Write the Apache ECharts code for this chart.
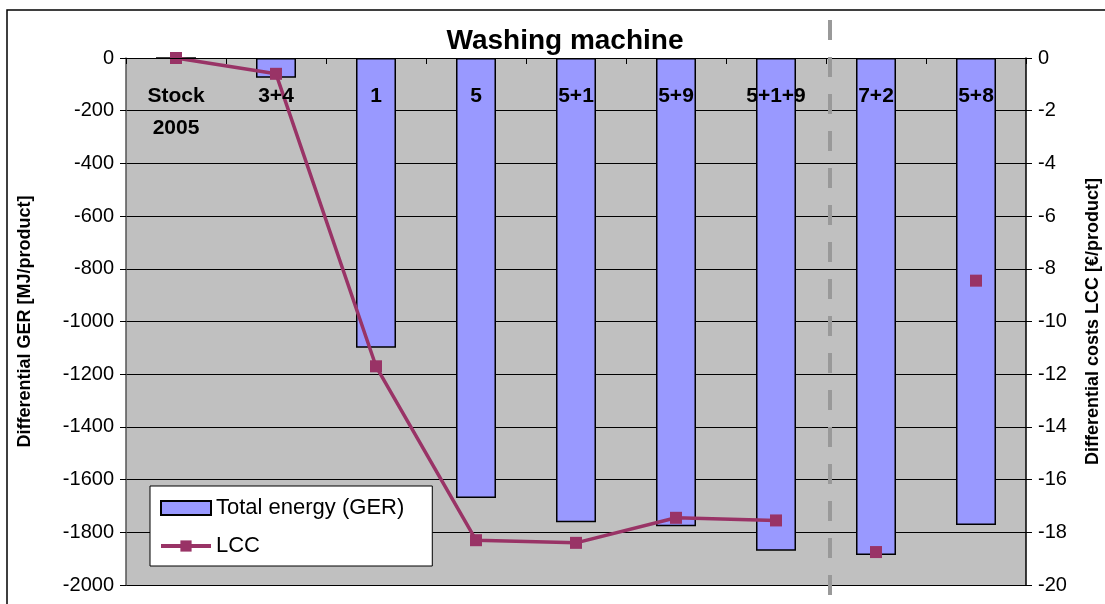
<!DOCTYPE html>
<html>
<head>
<meta charset="utf-8">
<script src="https://cdn.jsdelivr.net/npm/echarts@6/dist/echarts.min.js"></script>
<style>
  html, body { margin: 0; padding: 0; background: #fff; }
  #chart { width: 1105px; height: 604px; }
</style>
</head>
<body>
<div id="chart"></div>
<script>
var categories = ['Stock\n2005', '3+4', '1', '5', '5+1', '5+9', '5+1+9', '7+2', '5+8'];
var gerValues = [0, -75, -1100, -1670, -1762, -1777, -1870, -1886, -1772];
var lccLine = [0, -0.6, -11.7, -18.3, -18.4, -17.45, -17.55, null, null];
var lccPoints = [null, null, null, null, null, null, null, -18.75, -8.45];

var chart = echarts.init(document.getElementById('chart'));
var font = 'Liberation Sans, Arial, sans-serif';
var plain = function (v) { return String(v); };

var option = {
    animation: false,
    textStyle: { fontFamily: font, color: '#000' },
    title: {
        text: 'Washing machine',
        left: 560,
        top: 22,
        textAlign: 'center',
        textStyle: { fontSize: 28, fontWeight: 'bold', color: '#000', fontFamily: font }
    },
    legend: {
        orient: 'vertical',
        left: 150,
        top: 486,
        padding: [11, 28, 9, 9],
        itemGap: 16,
        itemWidth: 50,
        itemHeight: 14,
        backgroundColor: '#fff',
        borderColor: '#000',
        borderWidth: 1,
        borderRadius: 0,
        textStyle: { fontSize: 22, color: '#000', fontFamily: font },
        data: [
            { name: 'Total energy (GER)', icon: 'rect' },
            { name: 'LCC', lineStyle: { width: 4 } }
        ]
    },
    grid: {
        left: 126,
        right: 79,
        top: 58,
        bottom: 19,
        outerBoundsMode: 'none',
        show: true,
        backgroundColor: '#c0c0c0',
        borderWidth: 0
    },
    xAxis: {
        type: 'category',
        position: 'top',
        data: categories,
        z: 10,
        axisLine: { show: true, lineStyle: { color: '#000', width: 1 } },
        axisTick: { show: true, inside: true, length: 6, lineStyle: { color: '#000' } },
        axisLabel: {
            inside: true,
            interval: 0,
            margin: 22,
            fontSize: 21,
            fontWeight: 'bold',
            color: '#000',
            lineHeight: 32
        },
        splitLine: { show: false }
    },
    yAxis: [
        {
            type: 'value',
            min: -2000,
            max: 0,
            interval: 200,
            name: 'Differential GER [MJ/product]',
            nameLocation: 'middle',
            nameRotate: 90,
            nameGap: 92,
            nameTextStyle: { fontSize: 18, fontWeight: 'bold', color: '#000' },
            axisLine: { show: true, lineStyle: { color: '#555', width: 1.5 } },
            axisTick: { show: true, length: 6, lineStyle: { color: '#000' } },
            axisLabel: { fontSize: 20, color: '#000', margin: 12, formatter: plain },
            splitLine: { show: true, lineStyle: { color: '#000', width: 1 } }
        },
        {
            type: 'value',
            min: -20,
            max: 0,
            interval: 2,
            position: 'right',
            name: 'Differential costs LCC [€/product]',
            nameLocation: 'middle',
            nameRotate: 90,
            nameGap: 58,
            nameTextStyle: { fontSize: 18, fontWeight: 'bold', color: '#000' },
            axisLine: { show: true, lineStyle: { color: '#000', width: 1.5 } },
            axisTick: { show: true, length: 6, lineStyle: { color: '#000' } },
            axisLabel: { fontSize: 20, color: '#000', margin: 12, formatter: plain },
            splitLine: { show: false }
        }
    ],
    series: [
        {
            name: 'Total energy (GER)',
            type: 'bar',
            yAxisIndex: 0,
            barWidth: 40,
            itemStyle: { color: '#9999ff', borderColor: '#000', borderWidth: 1.5 },
            data: gerValues
        },
        {
            name: 'LCC',
            type: 'line',
            yAxisIndex: 1,
            symbol: 'rect',
            symbolSize: 12,
            lineStyle: { color: '#993366', width: 3.5 },
            itemStyle: { color: '#993366' },
            data: lccLine,
            z: 5
        },
        {
            name: 'LCC',
            type: 'line',
            yAxisIndex: 1,
            symbol: 'rect',
            symbolSize: 12,
            showSymbol: true,
            lineStyle: { opacity: 0 },
            itemStyle: { color: '#993366' },
            data: lccPoints,
            z: 5
        }
    ]
};
chart.setOption(option);

// dashed separator between the 5+1+9 and 7+2 categories
var xa = chart.convertToPixel({ xAxisIndex: 0 }, categories[6]);
var xb = chart.convertToPixel({ xAxisIndex: 0 }, categories[7]);
var xs = (xa + xb) / 2 + 4;
chart.setOption({
    graphic: [
        {
            type: 'rect',
            shape: { x: 7, y: 10, width: 1105, height: 620 },
            style: { fill: 'none', stroke: '#000', lineWidth: 1.5 },
            silent: true,
            z: -1
        },
        {
            type: 'line',
            shape: { x1: xs, y1: 20, x2: xs, y2: 604 },
            style: { stroke: '#999', lineWidth: 4, lineDash: [20, 17] },
            silent: true,
            z: 100
        }
    ]
});
</script>
</body>
</html>
